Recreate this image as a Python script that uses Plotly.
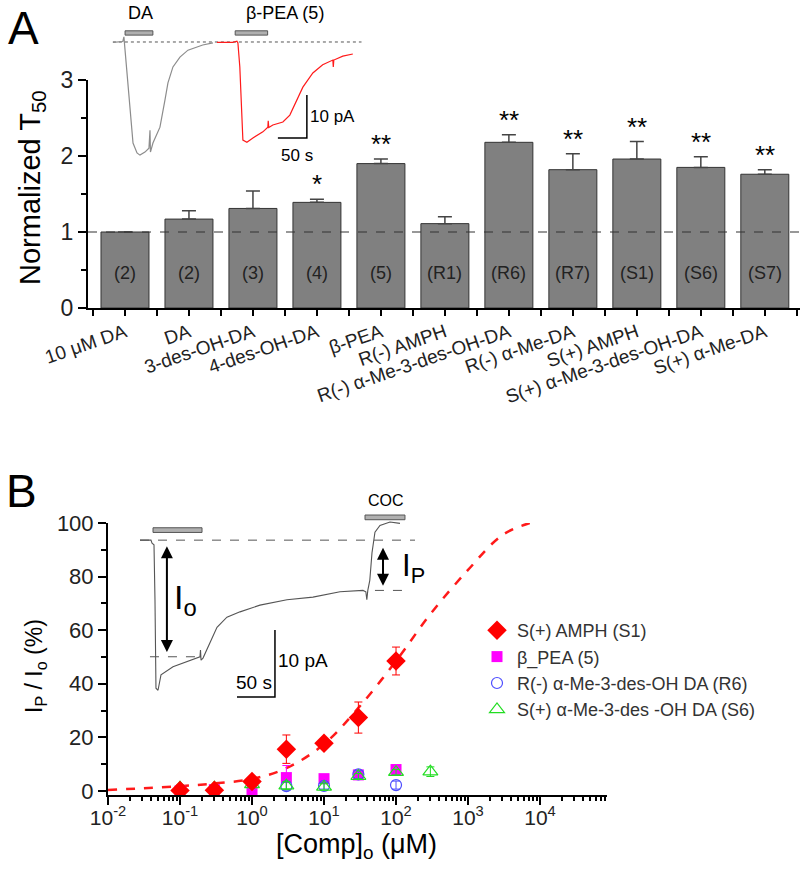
import plotly.graph_objects as go

# ---------------- Panel A data ----------------
categories = ["10 μM DA", "DA", "3-des-OH-DA", "4-des-OH-DA", "β-PEA", "R(-) AMPH",
              "R(-) α-Me-3-des-OH-DA", "R(-) α-Me-DA", "S(+) AMPH",
              "S(+) α-Me-3-des-OH-DA", "S(+) α-Me-DA"]
t50_mean = [1.00, 1.17, 1.31, 1.39, 1.90, 1.11, 2.18, 1.82, 1.96, 1.85, 1.76]
t50_err = [0.00, 0.11, 0.23, 0.04, 0.06, 0.09, 0.10, 0.21, 0.23, 0.14, 0.06]
compound_ids = ["(2)", "(2)", "(3)", "(4)", "(5)", "(R1)", "(R6)", "(R7)", "(S1)", "(S6)", "(S7)"]
significance = ["", "", "", "*", "**", "", "**", "**", "**", "**", "**"]

# inset A traces (time s, current pA)
da_t = [5, 22, 24, 26, 29, 34.5, 39.7, 46.6, 51.7, 60.3, 67.2, 69, 69.8, 74.1, 86.2, 94.8, 100,
        108.6, 120.7, 134.5, 150, 160, 177.6]
da_i = [-0.1, 0.1, 1.2, -1.9, -5.8, -15.8, -23.5, -25.8, -26.3, -25.6, -24.7, -20.5, -25.6, -23.5,
        -19.8, -13.5, -9.5, -5.8, -3.5, -1.9, -1.2, -0.7, -0.2]
pea_t = [184.5, 212, 219, 220.7, 224, 227.6, 229.3, 236.2, 246.6, 263.8, 272.4, 273, 274, 281,
         298.3, 310.3, 322.4, 332.8, 350, 367, 384.5, 385.3, 386.2, 401.7, 419]
pea_i = [-0.1, -0.1, 0.2, -0.2, -5.8, -15.8, -22.8, -23.3, -22.3, -20.9, -19.8, -18.3, -19.9, -19.3,
         -18.6, -17, -13.5, -10.5, -7.2, -5.3, -4.2, -5.8, -4.2, -3.3, -2.8]
a_baseline_t = [5, 434]
a_stim_t = [[26, 74], [216, 272]]
a_stim_labels = ["DA", "β-PEA (5)"]

# ---------------- Panel B data ----------------
conc_S1 = [0.1, 0.3, 1, 3, 10, 30, 100]
ip_S1 = [0.2, 0.3, 3.5, 15.6, 17.8, 27.4, 48.5]
err_S1 = [0.5, 0.5, 1.0, 5.3, 1.0, 5.8, 5.2]
conc_PEA = [0.1, 0.3, 1, 3, 10, 30, 100]
ip_PEA = [0.0, 0.5, -0.3, 5.0, 4.6, 6.0, 8.0]
err_PEA = [0.5, 0.8, 1.0, 4.5, 1.0, 1.0, 1.0]
conc_R6 = [0.1, 0.3, 1, 3, 10, 30, 100]
ip_R6 = [0.3, 0.5, 3.0, 1.8, 1.9, 6.2, 2.2]
err_R6 = [0.8, 0.8, 1.0, 1.5, 1.2, 1.5, 1.5]
conc_S6 = [0.1, 0.3, 1, 3, 10, 30, 100, 300]
ip_S6 = [1.2, 1.2, 2.5, 2.0, 1.5, 5.5, 7.0, 7.2]
err_S6 = [1.0, 1.0, 1.0, 1.5, 1.2, 1.0, 1.0, 1.8]
fit_conc = [0.01, 0.03, 0.1, 0.3, 1, 3, 10, 30, 100, 300, 1000, 3000, 7200]
fit_ip = [0.4, 1.0, 1.8, 2.8, 4.5, 8.5, 17.5, 31, 48.5, 66, 82.5, 95.5, 100]
conc_tickvals = [0.01, 0.1, 1, 10, 100, 1000, 10000]
conc_ticktext = ["10<sup>-2</sup>", "10<sup>-1</sup>", "10<sup>0</sup>", "10<sup>1</sup>",
                 "10<sup>2</sup>", "10<sup>3</sup>", "10<sup>4</sup>"]

# inset B trace (time s, current pA)
b_t = [6.6, 21, 22.4, 25, 26.3, 27.6, 30.3, 34.2, 50, 67.1, 85.5, 86.2, 86.9, 89.5, 98.7, 107.9,
       121, 138.2, 164.5, 200, 234.2, 269.8, 300, 303.8, 305.1, 306.4, 309, 311.9, 315.8, 322.4,
       335.6, 348.7]
b_i = [0, 0, -0.45, -0.7, -8.9, -22.1, -22.4, -20.1, -18.9, -18.2, -17.4, -16.4, -17.9, -17.6,
       -15.3, -13, -11.5, -10.7, -9.7, -8.9, -8.5, -7.7, -7.5, -7.7, -8.9, -7.5, -6, -1.9, 1.2,
       2.2, 2.7, 2.5]

FONT = "Liberation Sans, Arial, sans-serif"
W, H = 800, 872


def px(x):
    return x / W


def py(y):
    return 1 - y / H


def note(text, x, y, size, xref="paper", yref="paper", xanchor="center", angle=0, color="black"):
    return dict(text=text, x=x, y=y, xref=xref, yref=yref, showarrow=False, xanchor=xanchor,
                yanchor="middle", textangle=angle, font=dict(size=size, color=color, family=FONT))


fig = go.Figure()

# ---- Panel A bars ----
fig.add_trace(go.Bar(
    x=list(range(len(categories))), y=t50_mean, width=0.75,
    marker=dict(color="#808080", line=dict(color="#333333", width=1)),
    error_y=dict(type="data", symmetric=False, array=t50_err, arrayminus=[0] * len(t50_err),
                 color="#444444", thickness=1.5, width=7),
    xaxis="x", yaxis="y", showlegend=False))

# ---- Inset A ----
fig.add_trace(go.Scatter(x=a_baseline_t, y=[0, 0], mode="lines",
                         line=dict(color="#555555", width=1, dash="dot"),
                         xaxis="x3", yaxis="y3", showlegend=False))
fig.add_trace(go.Scatter(x=da_t, y=da_i, mode="lines", line=dict(color="#8c8c8c", width=1.2),
                         xaxis="x3", yaxis="y3", showlegend=False))
fig.add_trace(go.Scatter(x=pea_t, y=pea_i, mode="lines", line=dict(color="#ff1a1a", width=1.2),
                         xaxis="x3", yaxis="y3", showlegend=False))
fig.add_trace(go.Scatter(x=[339.7, 339.7, 289.7], y=[-12.3, -22.3, -22.3], mode="lines",
                         line=dict(color="black", width=1.5),
                         xaxis="x3", yaxis="y3", showlegend=False))

# ---- Panel B ----
fig.add_trace(go.Scatter(x=fit_conc, y=fit_ip, mode="lines", line=dict(color="#ff1a1a", width=2.5, dash="dash", shape="spline"),
                         xaxis="x2", yaxis="y2", showlegend=False))
fig.add_trace(go.Scatter(x=conc_PEA, y=ip_PEA, mode="markers", name="β_PEA (5)", legendrank=2,
                         marker=dict(symbol="square", size=11, color="#ff00ff"),
                         error_y=dict(type="data", array=err_PEA, color="#ff00ff", thickness=1, width=4),
                         xaxis="x2", yaxis="y2"))
fig.add_trace(go.Scatter(x=conc_R6, y=ip_R6, mode="markers", name="R(-) α-Me-3-des-OH DA (R6)", legendrank=3,
                         marker=dict(symbol="circle-open", size=11, color="#4d4dff", line=dict(width=1.2)),
                         error_y=dict(type="data", array=err_R6, color="#4d4dff", thickness=1, width=4),
                         xaxis="x2", yaxis="y2"))
fig.add_trace(go.Scatter(x=conc_S6, y=ip_S6, mode="markers", name="S(+) α-Me-3-des -OH DA (S6)", legendrank=4,
                         marker=dict(symbol="triangle-up-open", size=13, color="#22dd22", line=dict(width=1.2)),
                         error_y=dict(type="data", array=err_S6, color="#22dd22", thickness=1, width=4),
                         xaxis="x2", yaxis="y2"))
fig.add_trace(go.Scatter(x=conc_S1, y=ip_S1, mode="markers", name="S(+) AMPH (S1)", legendrank=1,
                         marker=dict(symbol="diamond", size=15, color="#ff0000"),
                         error_y=dict(type="data", array=err_S1, color="#ff0000", thickness=1, width=4),
                         xaxis="x2", yaxis="y2"))

# ---- Inset B ----
fig.add_trace(go.Scatter(x=[6.6, 368.5], y=[0, 0], mode="lines", line=dict(color="#555555", width=1, dash="dash"),
                         xaxis="x4", yaxis="y4", showlegend=False))
fig.add_trace(go.Scatter(x=[19.7, 85.5], y=[-17.4, -17.4], mode="lines", line=dict(color="#555555", width=1, dash="dash"),
                         xaxis="x4", yaxis="y4", showlegend=False))
fig.add_trace(go.Scatter(x=[315.8, 361.9], y=[-7.5, -7.5], mode="lines", line=dict(color="#555555", width=1, dash="dash"),
                         xaxis="x4", yaxis="y4", showlegend=False))
fig.add_trace(go.Scatter(x=b_t, y=b_i, mode="lines", line=dict(color="#555555", width=1.1),
                         xaxis="x4", yaxis="y4", showlegend=False))
fig.add_trace(go.Scatter(x=[184.2, 184.2, 134.2], y=[-13.4, -23.4, -23.4], mode="lines",
                         line=dict(color="black", width=1.5),
                         xaxis="x4", yaxis="y4", showlegend=False))

shapes = []
shapes.append(dict(type="line", xref="x domain", yref="y", x0=0, x1=1, y0=1, y1=1,
                   line=dict(color="#333333", width=1.2, dash="dash")))
for s in a_stim_t:
    shapes.append(dict(type="rect", xref="x3", yref="y3", x0=s[0], x1=s[1], y0=1.6, y1=2.6,
                       fillcolor="#b0b0b0", line=dict(color="#555555", width=1)))
for s, yy in [([23.7, 88.2], 1.5), ([302.7, 355.3], 3.4)]:
    shapes.append(dict(type="rect", xref="x4", yref="y4", x0=s[0], x1=s[1], y0=yy - 0.35, y1=yy + 0.35,
                       fillcolor="#b0b0b0", line=dict(color="#555555", width=1)))

ann = []
ann.append(note("A", px(23), py(28), 46))
ann.append(note("B", px(21), py(491), 46))
ann.append(note("Normalized T<sub>50</sub>", px(32), py(188), 29, angle=-90))
ann.append(note("I<sub>P</sub> / I<sub>o</sub> (%)", px(35), py(666), 23, angle=-90))
ann.append(note("[Comp]<sub>o</sub> (μM)", px(356), py(846), 27))
for i, (cid, m, e, s) in enumerate(zip(compound_ids, t50_mean, t50_err, significance)):
    ann.append(note(cid, i, 0.46, 18, xref="x", yref="y", color="#222222"))
    if s:
        a = note(s, i, m + e, 26, xref="x", yref="y")
        a["yshift"] = 15
        ann.append(a)
ann.append(note(a_stim_labels[0], px(140), py(13), 18))
ann.append(note(a_stim_labels[1], px(285), py(13), 18))
ann.append(note("10 pA", 342, -17.4, 17, xref="x3", yref="y3", xanchor="left"))
ann.append(note("50 s", 322, -26.5, 17, xref="x3", yref="y3"))
ann.append(note("COC", px(386), py(500), 16))
ann.append(note("10 pA", 186, -17.9, 19, xref="x4", yref="y4", xanchor="left"))
ann.append(note("50 s", 156, -21.3, 19, xref="x4", yref="y4"))
ann.append(note("I<sub>o</sub>", 66, -8.9, 34, xref="x4", yref="y4"))
ann.append(note("I<sub>P</sub>", 366, -4.2, 31, xref="x4", yref="y4"))
for xx, y0, y1 in [(42, -0.7, -16.7), (326.4, -0.9, -6.8)]:
    ann.append(dict(x=xx, y=y1, ax=xx, ay=y0, xref="x4", yref="y4", axref="x4", ayref="y4", text="",
                    showarrow=True, arrowhead=2, arrowside="end+start", arrowsize=1.2, arrowwidth=2,
                    arrowcolor="black"))

axis_common = dict(showline=True, linecolor="black", linewidth=2, ticks="outside", tickcolor="black",
                   tickwidth=1.5, showgrid=False, zeroline=False, automargin=False)

fig.update_layout(
    width=W, height=H, margin=dict(l=0, r=0, t=0, b=0, autoexpand=False),
    paper_bgcolor="white", plot_bgcolor="rgba(0,0,0,0)",
    font=dict(family=FONT, color="black"),
    bargap=0.25,
    xaxis=dict(domain=[px(88), 1.0], range=[-0.578, 10.55], anchor="y",
               tickmode="array", tickvals=list(range(len(categories))), ticktext=categories,
               tickangle=-19, ticklen=6, ticklabelstandoff=-2,
               minor=dict(tick0=0.5, dtick=1, ticks="outside", ticklen=6, tickcolor="black"),
               tickfont=dict(size=19, color="#222222", family=FONT), **axis_common),
    yaxis=dict(domain=[py(308), py(80)], range=[0, 3.0], anchor="x", dtick=1, ticklen=8,
               minor=dict(dtick=0.5, ticks="outside", ticklen=5, tickcolor="black"),
               tickfont=dict(size=23, color="#222222", family=FONT), **axis_common),
    xaxis2=dict(domain=[px(108), px(607)], type="log", range=[-2, 4.93], anchor="y2",
                tickmode="array", tickvals=conc_tickvals, ticktext=conc_ticktext, ticklen=8,
                ticklabelstandoff=-5,
                minor=dict(ticks="outside", ticklen=4, tickcolor="black", dtick="D1"),
                tickfont=dict(size=21, color="#222222", family=FONT), **axis_common),
    yaxis2=dict(domain=[py(795), py(523)], range=[-1.5, 100], anchor="x2", ticklen=8,
                tickmode="array", tickvals=[0, 20, 40, 60, 80, 100],
                minor=dict(tickmode="linear", tick0=0, dtick=10, ticks="outside", ticklen=5, tickcolor="black"),
                tickfont=dict(size=22, color="#222222", family=FONT), **axis_common),
    xaxis3=dict(domain=[px(110), px(365)], range=[0, 440], anchor="y3", visible=False),
    yaxis3=dict(domain=[py(165), py(25)], range=[-28.6, 3.95], anchor="x3", visible=False),
    xaxis4=dict(domain=[px(135), px(415)], range=[0, 368.5], anchor="y4", visible=False),
    yaxis4=dict(domain=[py(705), py(510)], range=[-24.6, 4.5], anchor="x4", visible=False),
    legend=dict(x=px(477), y=py(612), xanchor="left", yanchor="top", bgcolor="rgba(0,0,0,0)",
                font=dict(size=18, color="#333333", family=FONT), tracegroupgap=0),
    shapes=shapes, annotations=ann,
)

fig.write_html("out.html", config={"displayModeBar": False},
               post_script="document.body.style.margin='0px';")
